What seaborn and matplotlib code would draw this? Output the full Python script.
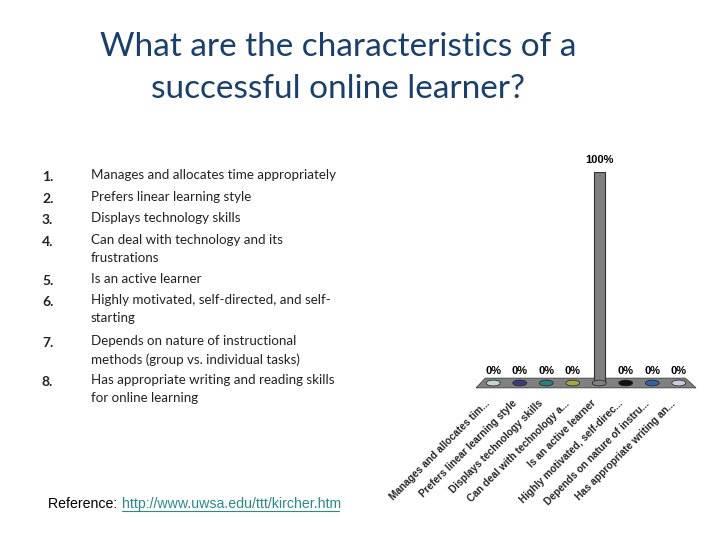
import numpy as np
import pandas as pd
import seaborn as sns
import matplotlib.pyplot as plt
from matplotlib.path import Path
from matplotlib.patches import Polygon
from matplotlib.transforms import ScaledTranslation


##############
# datos
##############

title = "What are the characteristics of a\nsuccessful online learner?"

items = ["Manages and allocates time appropriately",
         "Prefers linear learning style",
         "Displays technology skills",
         "Can deal with technology and its\nfrustrations",
         "Is an active learner",
         "Highly motivated, self-directed, and self-\nstarting",
         "Depends on nature of instructional\nmethods (group vs. individual tasks)",
         "Has appropriate writing and reading skills\nfor online learning"]

short_labels = ["Manages and allocates tim...",
                "Prefers linear learning style",
                "Displays technology skills",
                "Can deal with technology a...",
                "Is an active learner",
                "Highly motivated, self-direc...",
                "Depends on nature of instru...",
                "Has appropriate writing an..."]

percent = [0, 0, 0, 0, 100, 0, 0, 0]

dot_colors = ["#c4d4d4", "#3c3c7c", "#2c8080", "#a0a848",
              "#808080", "#101010", "#3464a4", "#ccccdc"]

##############
# figura
##############

sns.set_style("white")
plt.rcParams['font.family'] = ['Lato', 'DejaVu Sans']

fig = plt.figure(figsize=(7.2, 5.4), dpi=100)

fig.text(0.47, 1 - 68 / 540, title, ha="center", va="center", fontsize=24,
         color="#1b3f6b", linespacing=1.5)

# lista a la izquierda
y_pos = [175, 197, 218, 240, 279, 300, 341, 380]
for i, (txt, yp) in enumerate(zip(items, y_pos)):
    fig.text(42 / 720, 1 - (yp + 2) / 540, "{}.".format(i + 1), ha="left", va="center",
             fontsize=10, color="#222222", fontweight="bold")
    fig.text(91 / 720, 1 - (yp + 1) / 540, txt, ha="left", va="top", fontsize=9.6,
             color="#222222", linespacing=1.6,
             transform=fig.transFigure + ScaledTranslation(0, 5 / 72, fig.dpi_scale_trans))

fig.text(48 / 720, 1 - 504 / 540, "Reference: ", ha="left", va="center",
         fontsize=10.2, family="Liberation Sans", color="black")
fig.text(122 / 720, 1 - 504 / 540, "http://www.uwsa.edu/ttt/kircher.htm",
         ha="left", va="center", fontsize=10.2, family="Liberation Sans",
         color="#2a8a8a")
fig.add_artist(plt.Line2D([122 / 720, 339 / 720], [1 - 511 / 540] * 2,
                          color="#2a8a8a", lw=0.8))

# grafico de barras
ax = fig.add_axes([480 / 720, 1 - 383 / 540, 212 / 720, 211 / 540])
df = pd.DataFrame({"item": short_labels, "pct": percent})

ax.add_patch(Polygon([(-0.3, 2.3), (7.25, 2.3), (7.65, -2.3), (-0.65, -2.3)],
                     closed=True, facecolor="#808080", edgecolor="#404040",
                     lw=0.6, zorder=1, clip_on=False))

sns.barplot(data=df, x="item", y="pct", hue="item", palette=["#808080"] * 8,
            legend=False, width=0.42, edgecolor="#303030", linewidth=0.8,
            ax=ax, zorder=2)

t = np.linspace(0, 2 * np.pi, 40)
ell = Path(np.column_stack([np.cos(t), 0.42 * np.sin(t)]))
ax.scatter(range(len(percent)), [0] * len(percent), marker=ell, s=100,
           c=dot_colors, edgecolors="#202020", linewidths=0.5, zorder=3,
           clip_on=False)

for i, v in enumerate(percent):
    ax.text(i, v + 3.5, "{}%".format(v), ha="center", va="bottom", fontsize=8,
            fontweight="bold", family="Liberation Sans", color="black",
            clip_on=False)

ax.set_xlim(-0.5, 7.5)
ax.set_ylim(0, 100)
ax.set_xlabel("")
ax.set_ylabel("")
ax.set_yticks([])
ax.tick_params(axis="x", length=0, pad=11)
ax.set_xticks(range(len(short_labels)))
ax.set_xticklabels(short_labels, rotation=45, ha="right", rotation_mode="anchor",
                   fontsize=7.3, fontweight="bold", family="Liberation Sans")
off = ScaledTranslation(-6 / 72, 0, fig.dpi_scale_trans)
for lab in ax.get_xticklabels():
    lab.set_transform(lab.get_transform() + off)
sns.despine(ax=ax, left=True, bottom=True)
ax.patch.set_alpha(0)

fig.savefig("out.png", dpi=100)
